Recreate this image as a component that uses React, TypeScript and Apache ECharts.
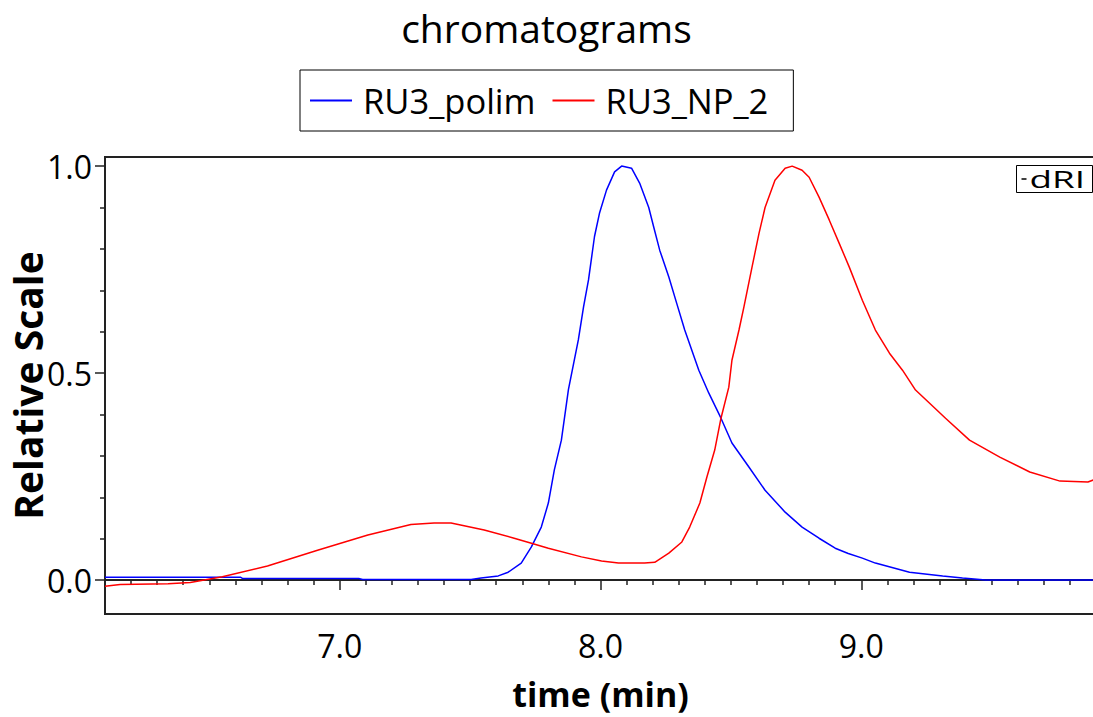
import React, { useEffect, useRef } from "react";
import * as echarts from "echarts";

// time (min) and relative scale
const polimTime = [6.1, 6.619, 6.627, 7.073, 7.088, 7.504, 7.542, 7.608, 7.646, 7.696, 7.735, 7.773, 7.8, 7.823, 7.85, 7.877, 7.915, 7.935, 7.954, 7.977, 7.996, 8.023, 8.054, 8.081, 8.119, 8.15, 8.185, 8.204, 8.227, 8.262, 8.292, 8.323, 8.377, 8.415, 8.462, 8.504, 8.569, 8.631, 8.708, 8.773, 8.838, 8.9, 8.95, 9.004, 9.054, 9.185, 9.312, 9.388, 9.477, 9.9];
const polimValue = [0.007, 0.007, 0.004, 0.004, 0.0015, 0.0015, 0.005, 0.01, 0.019, 0.041, 0.08, 0.128, 0.186, 0.266, 0.338, 0.46, 0.58, 0.66, 0.725, 0.83, 0.886, 0.942, 0.986, 1.0, 0.995, 0.959, 0.9, 0.853, 0.797, 0.732, 0.669, 0.604, 0.507, 0.452, 0.391, 0.331, 0.273, 0.217, 0.164, 0.128, 0.101, 0.077, 0.064, 0.053, 0.041, 0.019, 0.01, 0.005, 0.0, 0.0];

const np2Time = [6.1, 6.158, 6.342, 6.427, 6.55, 6.723, 6.915, 7.108, 7.273, 7.362, 7.427, 7.554, 7.669, 7.735, 7.8, 7.927, 8.004, 8.069, 8.169, 8.208, 8.262, 8.312, 8.342, 8.381, 8.408, 8.438, 8.462, 8.492, 8.504, 8.531, 8.55, 8.581, 8.608, 8.631, 8.669, 8.708, 8.735, 8.773, 8.8, 8.838, 8.877, 8.915, 8.954, 9.004, 9.054, 9.108, 9.158, 9.208, 9.262, 9.323, 9.415, 9.531, 9.646, 9.762, 9.869, 9.9];
const np2Value = [-0.015, -0.011, -0.009, -0.006, 0.008, 0.034, 0.072, 0.109, 0.134, 0.138, 0.138, 0.121, 0.101, 0.089, 0.077, 0.056, 0.046, 0.041, 0.041, 0.043, 0.065, 0.092, 0.128, 0.186, 0.249, 0.314, 0.391, 0.466, 0.531, 0.604, 0.66, 0.756, 0.838, 0.9, 0.966, 0.995, 1.0, 0.99, 0.973, 0.925, 0.87, 0.814, 0.756, 0.676, 0.604, 0.548, 0.507, 0.459, 0.427, 0.391, 0.338, 0.297, 0.261, 0.239, 0.237, 0.244];

const seriesNames = ["RU3_polim", "RU3_NP_2"];
const xMajorTicks = [7.0, 8.0, 9.0];
const xMinorTicks = [6.2, 6.3, 6.4, 6.5, 6.6, 6.7, 6.8, 6.9, 7.1, 7.2, 7.3, 7.4, 7.5, 7.6, 7.7, 7.8, 7.9, 8.1, 8.2, 8.3, 8.4, 8.5, 8.6, 8.7, 8.8, 8.9, 9.1, 9.2, 9.3, 9.4, 9.5, 9.6, 9.7, 9.8];
const yMajorTicks = [0.0, 0.5, 1.0];
const yMinorTicks = [0.1, 0.2, 0.3, 0.4, 0.6, 0.7, 0.8, 0.9];

const FONT = "Open Sans";

export default function App() {
  const ref = useRef<HTMLDivElement>(null);
  useEffect(() => {
    if (!ref.current) return;
    const chart = echarts.init(ref.current, null, { renderer: "svg" });
    const zip = (a: number[], b: number[]) => a.map((v, i) => [v, b[i]]);
    const xCommon = { type: "value", min: 6.1, max: 9.9, splitLine: { show: false } };
    const yCommon = { type: "value", min: -0.082, max: 1.022, splitLine: { show: false } };
    chart.setOption({
      animation: false,
      backgroundColor: "#ffffff",
      textStyle: { fontFamily: FONT },
      title: {
        text: "chromatograms",
        left: "center",
        top: 3,
        textStyle: { fontFamily: FONT, fontSize: 39, fontWeight: "normal", color: "#000" },
      },
      legend: {
        data: seriesNames,
        left: 300,
        top: 70,
        padding: [13, 25, 13, 10],
        borderColor: "#000",
        borderWidth: 1,
        itemWidth: 42,
        itemHeight: 2,
        itemGap: 17,
        icon: "rect",
        textStyle: { fontFamily: FONT, fontSize: 34.5, color: "#000", padding: [0, 0, 0, 6] },
      },
      grid: {
        left: 105,
        top: 157,
        right: -3,
        bottom: 103,
        show: true,
        borderColor: "#222",
        borderWidth: 2,
        containLabel: false,
        outerBoundsMode: "none",
      },
      xAxis: [
        {
          ...xCommon,
          position: "bottom",
          axisLine: { show: true, lineStyle: { color: "#222", width: 2 } },
          axisTick: { show: true, length: 10, customValues: xMajorTicks, lineStyle: { color: "#222", width: 1.5 } },
          axisLabel: {
            show: true,
            customValues: xMajorTicks,
            formatter: (v: number) => v.toFixed(1),
            fontFamily: FONT,
            fontSize: 32,
            color: "#000",
            margin: 15,
          },
          name: "time (min)",
          nameLocation: "middle",
          nameGap: 63,
          nameMoveOverlap: false,
          nameTextStyle: { fontFamily: FONT, fontSize: 34, fontWeight: "bold", color: "#000" },
        },
        {
          ...xCommon,
          position: "bottom",
          axisLine: { show: false },
          axisTick: { show: true, length: 5, customValues: xMinorTicks, lineStyle: { color: "#222", width: 1.5 } },
          axisLabel: { show: false },
        },
      ],
      yAxis: [
        {
          ...yCommon,
          position: "left",
          axisLine: { show: true, lineStyle: { color: "#222", width: 2 } },
          axisTick: { show: true, length: 10, customValues: yMajorTicks, lineStyle: { color: "#222", width: 1.5 } },
          axisLabel: {
            show: true,
            customValues: yMajorTicks,
            formatter: (v: number) => v.toFixed(1),
            fontFamily: FONT,
            fontSize: 32,
            color: "#000",
            margin: 13,
          },
          name: "Relative Scale",
          nameLocation: "middle",
          nameGap: 58,
          nameMoveOverlap: false,
          nameTextStyle: { fontFamily: FONT, fontSize: 39, fontWeight: "bold", color: "#000" },
        },
        {
          ...yCommon,
          position: "left",
          axisLine: { show: false },
          axisTick: { show: true, length: 5, customValues: yMinorTicks, lineStyle: { color: "#222", width: 1.5 } },
          axisLabel: { show: false },
        },
      ],
      graphic: [
        {
          type: "group",
          left: 1016,
          top: 165,
          children: [
            { type: "rect", shape: { x: 0, y: 0, width: 76, height: 27 }, style: { fill: "#fff", stroke: "#000", lineWidth: 1 } },
            { type: "line", shape: { x1: 5, y1: 13.5, x2: 10, y2: 13.5 }, style: { stroke: "#000", lineWidth: 1.5 } },
            { type: "text", x: 13, y: 14, scaleX: 1.6, style: { text: "dRI", fontFamily: FONT, fontSize: 23, fill: "#000", verticalAlign: "middle" } },
          ],
        },
      ],
      series: [
        {
          name: seriesNames[0],
          type: "line",
          data: zip(polimTime, polimValue),
          showSymbol: false,
          symbol: "none",
          color: "#0000ff",
          lineStyle: { color: "#0000ff", width: 1.5 },
        },
        {
          name: seriesNames[1],
          type: "line",
          data: zip(np2Time, np2Value),
          showSymbol: false,
          symbol: "none",
          color: "#ff0000",
          lineStyle: { color: "#ff0000", width: 1.5 },
        },
      ],
    });
    return () => chart.dispose();
  }, []);
  return (
    <div
      ref={ref}
      style={{ position: "fixed", left: 0, top: 0, width: 1093, height: 717, background: "#fff" }}
    />
  );
}
